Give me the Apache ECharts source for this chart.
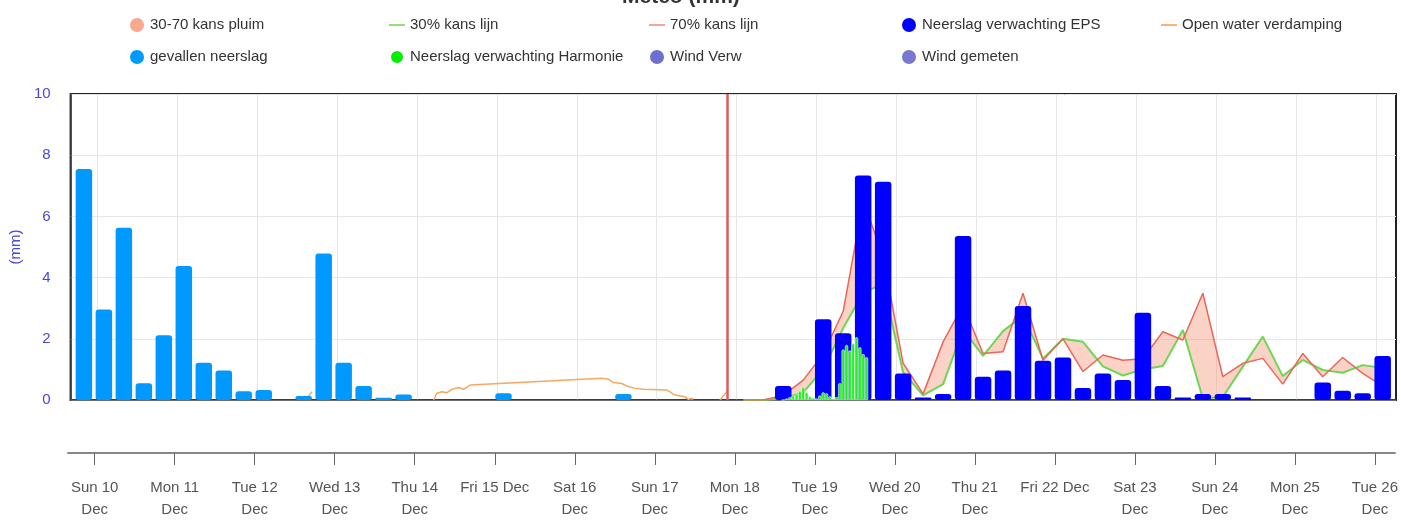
<!DOCTYPE html>
<html>
<head>
<meta charset="utf-8">
<script src="https://cdn.jsdelivr.net/npm/echarts@6/dist/echarts.min.js"></script>
<style>
  html, body { margin: 0; padding: 0; background: #fff; }
  #chart { width: 1401px; height: 521px; }
</style>
</head>
<body>
<div id="chart"></div>
<script>
// x-as: uren vanaf zo 10 dec 00:00
const dayHours = [0, 24, 48, 72, 96, 120, 144, 168, 192, 216, 240, 264, 288, 312, 336, 360, 384];
const dayLabels = ['Sun 10\nDec', 'Mon 11\nDec', 'Tue 12\nDec', 'Wed 13\nDec', 'Thu 14\nDec', 'Fri 15 Dec',
  'Sat 16\nDec', 'Sun 17\nDec', 'Mon 18\nDec', 'Tue 19\nDec', 'Wed 20\nDec', 'Thu 21\nDec', 'Fri 22 Dec',
  'Sat 23\nDec', 'Sun 24\nDec', 'Mon 25\nDec', 'Tue 26\nDec'];
const nowHour = 189.3;

// gevallen neerslag, per 6 uur
const obsStart = -4;
const obsValues = [7.55, 2.96, 5.63, 0.55, 2.12, 4.38, 1.22, 0.96, 0.29, 0.33, 0, 0.13, 4.79, 1.22, 0.46, 0.07,
  0.18, 0, 0, 0, 0, 0.22, 0, 0, 0, 0, 0, 0.2];

// neerslag verwachting EPS, per 6 uur
const epsStart = 206;
const epsValues = [0.46, 0, 2.64, 2.18, 7.34, 7.13, 0.87, 0.08, 0.2, 5.36, 0.76, 0.96, 3.07, 1.28, 1.39, 0.39,
  0.87, 0.65, 2.85, 0.46, 0.08, 0.2, 0.2, 0.08, 0, 0, 0, 0.57, 0.3, 0.22, 1.44];

// neerslag verwachting Harmonie, per uur
const harmStart = 206;
const harmValues = [0, 0.05, 0.1, 0.15, 0.2, 0.3, 0.42, 0.25, 0.12, 0.08, 0.05, 0.15, 0.25, 0.22, 0.12, 0.05,
  0.1, 0.55, 1.65, 1.8, 1.62, 1.85, 2.05, 1.72, 1.5, 1.4];

// kanslijnen, per 6 uur
const kansStart = 194;
const kans30 = [0, 0, 0.05, 0.25, 1.0, 2.35, 3.5, 3.8, 0.9, 0.15, 0.52, 2.3, 1.44, 2.25, 2.75, 1.35, 2.0, 1.9,
  1.1, 0.8, 1.0, 1.11, 2.29, 0.05, 0.1, 1.09, 2.07, 0.78, 1.31, 0.98, 0.89, 1.14, 1.05];
const kans70 = [0, 0, 0.15, 0.65, 1.5, 2.9, 6.5, 4.7, 1.2, 0.2, 1.9, 3.1, 1.52, 1.58, 3.49, 1.3, 2.0, 0.93,
  1.47, 1.3, 1.35, 2.23, 1.96, 3.49, 0.76, 1.2, 1.36, 0.52, 1.52, 0.76, 1.39, 0.87, 0.45];

// open water verdamping (null = onderbreking)
const evapHours = [62.5, 64.5, 65, 101, 102, 103.5, 105, 106.5, 108.5, 110, 112, 151.5, 153.5, 155, 157.5, 159,
  161.5, 164, 171, 173.5, 176.5, 177.5, 178.5, 179, 179.5, 187, 189.3];
const evapValues = [0, 0.27, null, 0, 0.22, 0.27, 0.24, 0.35, 0.41, 0.35, 0.49, 0.71, 0.68, 0.57, 0.54, 0.46,
  0.38, 0.35, 0.33, 0.16, 0.11, 0.02, 0.05, 0.02, null, 0, 0.3];

const toPairs = (start, step, values) => values.map((v, i) => [start + i * step, v]);
const kansHours = kans30.map((v, i) => kansStart + i * 6);

const font = "'Liberation Sans', Arial, sans-serif";
const xMin = -8, xMax = 390;
const lineIcon = 'path://M0,0 L16,0 L16,2 L0,2 Z';

const chart = echarts.init(document.getElementById('chart'));

function legendCol(left, items) {
  return {
    orient: 'vertical',
    left: left,
    top: 12,
    itemWidth: 16,
    itemHeight: 14,
    itemGap: 16,
    textStyle: { color: '#333', fontSize: 15, fontFamily: font, lineHeight: 16 },
    data: items.map(it => ({ name: it[0], icon: it[1], itemStyle: { color: it[2] } }))
  };
}

const hiddenX = () => ({ type: 'value', gridIndex: 0, min: xMin, max: xMax, show: false });

// pluim tussen 30% en 70% lijn als één polygoon
function renderPluim(params, api) {
  if (params.dataIndex !== 0) return null;
  const upper = kansHours.map((h, i) => api.coord([h, kans70[i]]));
  const lower = kansHours.map((h, i) => api.coord([h, kans30[i]])).reverse();
  return {
    type: 'polygon',
    shape: { points: upper.concat(lower) },
    style: { fill: 'rgba(244, 150, 120, 0.42)' }
  };
}

chart.setOption({
  animation: false,
  textStyle: { fontFamily: font },
  title: {
    text: 'Meteo (mm)',
    left: 617,
    top: -18,
    textStyle: { fontSize: 21, fontWeight: 'bold', color: '#333', fontFamily: font }
  },
  legend: [
    legendCol(125, [['30-70 kans pluim', 'circle', '#f6a98d'], ['gevallen neerslag', 'circle', '#0099ff']]),
    legendCol(384, [['30% kans lijn', lineIcon, '#8ee27a'], ['Neerslag verwachting Harmonie', 'circle', '#00ee00']]),
    legendCol(644, [['70% kans lijn', lineIcon, '#f2a3a3'], ['Wind Verw', 'circle', '#4b4bc4']]),
    legendCol(897, [['Neerslag verwachting EPS', 'circle', '#0000ff'], ['Wind gemeten', 'circle', '#5656c6']]),
    legendCol(1156, [['Open water verdamping', lineIcon, '#f5b57a']])
  ],
  grid: [
    { left: 68, right: 5, top: 94, bottom: 121, show: true, borderColor: '#222', borderWidth: 2 },
    { left: 68, right: 5, top: 452, height: 1 }
  ],
  xAxis: [
    {
      type: 'value', gridIndex: 0, min: xMin, max: xMax,
      axisLine: { show: true, onZero: false, lineStyle: { color: '#444', width: 1.5 } },
      axisTick: { show: false, customValues: dayHours },
      axisLabel: { show: false, customValues: dayHours },
      splitLine: { show: true, lineStyle: { color: '#e6e6e6' } }
    },
    hiddenX(),
    hiddenX(),
    {
      type: 'value', gridIndex: 1, min: xMin, max: xMax, position: 'bottom',
      axisLine: { show: true, onZero: false, lineStyle: { color: '#888', width: 2 } },
      axisTick: { show: true, length: 12, customValues: dayHours, lineStyle: { color: '#666' } },
      axisLabel: {
        customValues: dayHours,
        formatter: v => dayLabels[dayHours.indexOf(v)],
        color: '#555', fontSize: 15, lineHeight: 22, margin: 24, fontFamily: font
      },
      splitLine: { show: false }
    }
  ],
  yAxis: [
    {
      type: 'value', gridIndex: 0, min: 0, max: 10, interval: 2,
      name: '(mm)', nameLocation: 'middle', nameGap: 42,
      nameTextStyle: { color: '#4848d8', fontSize: 15, fontFamily: font },
      axisLine: { show: true, onZero: false, lineStyle: { color: '#444', width: 1.5 } },
      axisTick: { show: false },
      axisLabel: { color: '#4848d8', fontSize: 15, margin: 20, fontFamily: font },
      splitLine: { show: true, lineStyle: { color: '#e6e6e6' } }
    },
    { type: 'value', gridIndex: 1, show: false }
  ],
  series: [
    {
      name: '30-70 kans pluim', type: 'custom', xAxisIndex: 0, yAxisIndex: 0, z: 1,
      renderItem: renderPluim,
      itemStyle: { color: '#f6a98d' },
      encode: { x: 0, y: [1, 2] },
      data: kansHours.map((h, i) => [h, kans30[i], kans70[i]])
    },
    {
      name: '30% kans lijn', type: 'line', xAxisIndex: 0, yAxisIndex: 0,
      symbol: 'none', z: 2,
      itemStyle: { color: '#6fd655' },
      lineStyle: { color: '#6fd655', width: 2 },
      data: kansHours.map((h, i) => [h, kans30[i]])
    },
    {
      name: '70% kans lijn', type: 'line', xAxisIndex: 0, yAxisIndex: 0,
      symbol: 'none', z: 2,
      itemStyle: { color: '#e9675a' },
      lineStyle: { color: '#e9675a', width: 1.5 },
      data: kansHours.map((h, i) => [h, kans70[i]])
    },
    {
      name: 'Open water verdamping', type: 'line', xAxisIndex: 0, yAxisIndex: 0,
      symbol: 'none', z: 2, connectNulls: false,
      itemStyle: { color: '#f4a860' },
      lineStyle: { color: '#f4a860', width: 1.5 },
      data: evapHours.map((h, i) => [h, evapValues[i] === null ? '-' : evapValues[i]])
    },
    {
      name: 'gevallen neerslag', type: 'bar', xAxisIndex: 0, yAxisIndex: 0,
      barWidth: 16.5, z: 3,
      itemStyle: { color: '#0099ff', borderRadius: 3 },
      data: toPairs(obsStart, 6, obsValues),
      markLine: {
        silent: true, symbol: 'none', label: { show: false },
        lineStyle: { color: '#e25a5a', width: 2.5, type: 'solid' },
        data: [{ xAxis: nowHour }]
      }
    },
    {
      name: 'Neerslag verwachting EPS', type: 'bar', xAxisIndex: 1, yAxisIndex: 0,
      barWidth: 16.5, z: 3,
      itemStyle: { color: '#0000ff', borderRadius: 3 },
      data: toPairs(epsStart, 6, epsValues)
    },
    {
      name: 'Neerslag verwachting Harmonie', type: 'bar', xAxisIndex: 2, yAxisIndex: 0,
      barWidth: 3.3, z: 4,
      itemStyle: { color: '#22ee22', borderColor: '#ffffff', borderWidth: 0.5, borderRadius: [1.5, 1.5, 0, 0] },
      data: toPairs(harmStart, 1, harmValues)
    },
    { name: 'Wind Verw', type: 'scatter', xAxisIndex: 0, yAxisIndex: 0, itemStyle: { color: '#4b4bc4' }, data: [] },
    { name: 'Wind gemeten', type: 'scatter', xAxisIndex: 0, yAxisIndex: 0, itemStyle: { color: '#5656c6' }, data: [] }
  ]
});
</script>
</body>
</html>
